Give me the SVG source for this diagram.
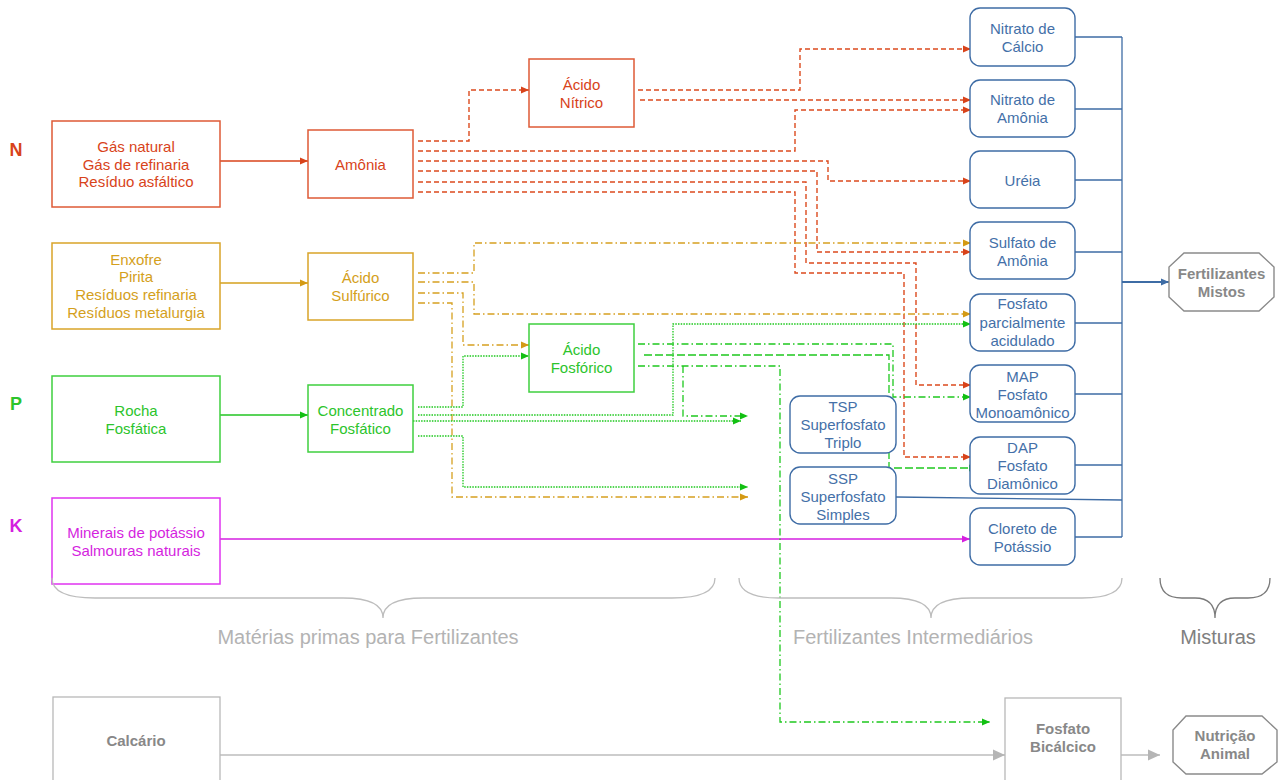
<svg xmlns="http://www.w3.org/2000/svg" width="1286" height="780" viewBox="0 0 1286 780">
<style>
text{font-family:"Liberation Sans",Arial,sans-serif;font-size:15px;text-anchor:middle}
.r{fill:#d8431a}.y{fill:#d4a01c}.g{fill:#2cc42c}.m{fill:#d51fe0}.b{fill:#4470a8}.gr{fill:#888;font-weight:bold}
.lbl{font-weight:bold;font-size:18px}
.boxr{fill:#fff;stroke:#de5a36;stroke-width:1.5}
.boxy{fill:#fff;stroke:#d9a428;stroke-width:1.5}
.boxg{fill:#fff;stroke:#3fcf3f;stroke-width:1.5}
.boxm{fill:#fff;stroke:#e033f0;stroke-width:1.5}
.boxb{fill:#fff;stroke:#3e6ca5;stroke-width:1.4}
.boxgr{fill:#fff;stroke:#b8b8b8;stroke-width:1.3}
.oct{fill:#fff;stroke:#8a8a8a;stroke-width:1.4}
.cr{fill:none;stroke:#dc4a1e;stroke-width:1.4;stroke-dasharray:5,3}
.cy{fill:none;stroke:#d6a020;stroke-width:1.3;stroke-dasharray:7,3,1.5,3}
.cgd{fill:none;stroke:#1ec81e;stroke-width:1.3;stroke-dasharray:1.5,1.2}
.cgdd{fill:none;stroke:#1ec81e;stroke-width:1.3;stroke-dasharray:7,3,1.5,3}
.cgl{fill:none;stroke:#1ec81e;stroke-width:1.3;stroke-dasharray:8,3}
.cb{fill:none;stroke:#3e6ca5;stroke-width:1.3}
.brace{fill:none;stroke:#bdbdbd;stroke-width:1.3}
</style>
<defs>
<marker id="ar" markerUnits="userSpaceOnUse" markerWidth="9" markerHeight="8" refX="8" refY="4" orient="auto"><path d="M0,0.5 L8,4 L0,7.5z" fill="#d8431a"/></marker>
<marker id="ay" markerUnits="userSpaceOnUse" markerWidth="9" markerHeight="8" refX="8" refY="4" orient="auto"><path d="M0,0.5 L8,4 L0,7.5z" fill="#d49a14"/></marker>
<marker id="ag" markerUnits="userSpaceOnUse" markerWidth="9" markerHeight="8" refX="8" refY="4" orient="auto"><path d="M0,0.5 L8,4 L0,7.5z" fill="#12c012"/></marker>
<marker id="am" markerUnits="userSpaceOnUse" markerWidth="9" markerHeight="8" refX="8" refY="4" orient="auto"><path d="M0,0.5 L8,4 L0,7.5z" fill="#d51fe0"/></marker>
<marker id="ab" markerUnits="userSpaceOnUse" markerWidth="9" markerHeight="8" refX="8" refY="4" orient="auto"><path d="M0,0.5 L8,4 L0,7.5z" fill="#3e6ca5"/></marker>
<marker id="agr" markerUnits="userSpaceOnUse" markerWidth="13" markerHeight="12" refX="12" refY="6" orient="auto"><path d="M0,0.5 L12,6 L0,11.5z" fill="#b5b5b5"/></marker>
</defs>

<g id="labels">
<text x="16" y="156" class="lbl r">N</text>
<text x="16" y="410" class="lbl g">P</text>
<text x="16" y="532" class="lbl m">K</text>
</g>

<g id="connectors">
<path d="M220,161 H308" fill="none" stroke="#d8431a" stroke-width="1.4" marker-end="url(#ar)"/>
<path d="M220,283 H308" fill="none" stroke="#d4a01c" stroke-width="1.4" marker-end="url(#ay)"/>
<path d="M220,415 H308" fill="none" stroke="#22c422" stroke-width="1.4" marker-end="url(#ag)"/>
<path d="M220,539 H970" fill="none" stroke="#d51fe0" stroke-width="1.4" marker-end="url(#am)"/>
<path d="M220,755 H1005" fill="none" stroke="#bcbcbc" stroke-width="1.5" marker-end="url(#agr)"/>
<path d="M1121,755 H1160" fill="none" stroke="#bcbcbc" stroke-width="1.5" marker-end="url(#agr)"/>

<path class="cr" d="M418,141 H469 V90 H529" marker-end="url(#ar)"/>
<path class="cr" d="M638,90 H800 V49 H971" marker-end="url(#ar)"/>
<path class="cr" d="M640,100 H971" marker-end="url(#ar)"/>
<path class="cr" d="M418,151 H795 V110 H971" marker-end="url(#ar)"/>
<path class="cr" d="M418,161 H828 V181 H971" marker-end="url(#ar)"/>
<path class="cr" d="M418,171 H817 V252 H971" marker-end="url(#ar)"/>
<path class="cr" d="M418,182 H806 V263 H916 V385 H971" marker-end="url(#ar)"/>
<path class="cr" d="M418,192 H795 V273 H904 V457 H971" marker-end="url(#ar)"/>

<path class="cy" d="M418,273 H474 V243 H971" marker-end="url(#ay)"/>
<path class="cy" d="M418,282 H474 V314 H971" marker-end="url(#ay)"/>
<path class="cy" d="M418,293 H463 V345 H529" marker-end="url(#ay)"/>
<path class="cy" d="M418,303 H452 V497 H748" marker-end="url(#ay)"/>

<path class="cgd" d="M418,407 H463 V356 H529" marker-end="url(#ag)"/>
<path class="cgd" d="M418,415 H673 V324 H971" marker-end="url(#ag)"/>
<path class="cgd" d="M413,421 H741" marker-end="url(#ag)"/>
<path class="cgd" d="M418,436 H463 V487 H748" marker-end="url(#ag)"/>

<path class="cgdd" d="M638,344 H893 V397 H971" marker-end="url(#ag)"/>
<path class="cgl" d="M644,355 H889 V468 H977" marker-end="url(#ag)"/>
<path class="cgdd" d="M638,366 H780 V722 H990" marker-end="url(#ag)"/>
<path class="cgdd" d="M683,366 V416 H748" marker-end="url(#ag)"/>

<path class="cb" d="M1122,37 V537"/>
<path class="cb" d="M1075,37 H1122 M1075,109 H1122 M1075,180 H1122 M1075,252 H1122 M1075,323 H1122 M1075,394 H1122 M1075,465 H1122 M1075,537 H1122 M896,497 L1122,500"/>
<path d="M1122,282 H1169" fill="none" stroke="#3e6ca5" stroke-width="2.2" marker-end="url(#ab)"/>
</g>

<g id="gas"><rect class="boxr" x="52" y="121" width="168" height="86"/>
<text x="136" y="152" class="r">Gás natural</text><text x="136" y="169.5" class="r">Gás de refinaria</text><text x="136" y="187" class="r">Resíduo asfáltico</text></g>
<g id="enxofre"><rect class="boxy" x="52" y="243" width="168" height="86"/>
<text x="136" y="265" class="y">Enxofre</text><text x="136" y="282" class="y">Pirita</text><text x="136" y="300" class="y">Resíduos refinaria</text><text x="136" y="318" class="y">Resíduos metalurgia</text></g>
<g id="rocha"><rect class="boxg" x="52" y="376" width="168" height="86"/>
<text x="136" y="416" class="g">Rocha</text><text x="136" y="434" class="g">Fosfática</text></g>
<g id="minerais"><rect class="boxm" x="52" y="498" width="168" height="86"/>
<text x="136" y="538" class="m">Minerais de potássio</text><text x="136" y="556" class="m">Salmouras naturais</text></g>

<g id="amonia"><rect class="boxr" x="308" y="130" width="105" height="68"/>
<text x="360.5" y="170" class="r">Amônia</text></g>
<g id="acido-nitrico"><rect class="boxr" x="529" y="59" width="105" height="68"/>
<text x="581.5" y="90" class="r">Ácido</text><text x="581.5" y="108" class="r">Nítrico</text></g>
<g id="acido-sulfurico"><rect class="boxy" x="308" y="253" width="105" height="67"/>
<text x="360.5" y="283" class="y">Ácido</text><text x="360.5" y="301" class="y">Sulfúrico</text></g>
<g id="acido-fosforico"><rect class="boxg" x="529" y="324" width="105" height="68"/>
<text x="581.5" y="355" class="g">Ácido</text><text x="581.5" y="373" class="g">Fosfórico</text></g>
<g id="concentrado"><rect class="boxg" x="308" y="385" width="105" height="67"/>
<text x="360.5" y="416" class="g">Concentrado</text><text x="360.5" y="434" class="g">Fosfático</text></g>

<g id="nitrato-calcio"><rect class="boxb" x="970" y="8" width="105" height="58" rx="10"/>
<text x="1022.5" y="34" class="b">Nitrato de</text><text x="1022.5" y="52" class="b">Cálcio</text></g>
<g id="nitrato-amonia"><rect class="boxb" x="970" y="80" width="105" height="57" rx="10"/>
<text x="1022.5" y="105" class="b">Nitrato de</text><text x="1022.5" y="123" class="b">Amônia</text></g>
<g id="ureia"><rect class="boxb" x="970" y="151" width="105" height="57" rx="10"/>
<text x="1022.5" y="186" class="b">Uréia</text></g>
<g id="sulfato-amonia"><rect class="boxb" x="970" y="222" width="105" height="57" rx="10"/>
<text x="1022.5" y="248" class="b">Sulfato de</text><text x="1022.5" y="266" class="b">Amônia</text></g>
<g id="fosfato-parc"><rect class="boxb" x="970" y="294" width="105" height="57" rx="10"/>
<text x="1022.5" y="309" class="b">Fosfato</text><text x="1022.5" y="328" class="b">parcialmente</text><text x="1022.5" y="346" class="b">acidulado</text></g>
<g id="map"><rect class="boxb" x="970" y="365" width="105" height="57" rx="10"/>
<text x="1022.5" y="382" class="b">MAP</text><text x="1022.5" y="400" class="b">Fosfato</text><text x="1022.5" y="418" class="b">Monoamônico</text></g>
<g id="dap"><rect class="boxb" x="970" y="437" width="105" height="57" rx="10"/>
<text x="1022.5" y="453" class="b">DAP</text><text x="1022.5" y="471" class="b">Fosfato</text><text x="1022.5" y="489" class="b">Diamônico</text></g>
<g id="cloreto"><rect class="boxb" x="970" y="508" width="105" height="57" rx="10"/>
<text x="1022.5" y="534" class="b">Cloreto de</text><text x="1022.5" y="552" class="b">Potássio</text></g>
<g id="tsp"><rect class="boxb" x="790" y="396" width="106" height="57" rx="10"/>
<text x="843" y="412" class="b">TSP</text><text x="843" y="430" class="b">Superfosfato</text><text x="843" y="448" class="b">Triplo</text></g>
<g id="ssp"><rect class="boxb" x="790" y="467" width="106" height="57" rx="10"/>
<text x="843" y="484" class="b">SSP</text><text x="843" y="502" class="b">Superfosfato</text><text x="843" y="520" class="b">Simples</text></g>

<g id="fert-mistos"><polygon class="oct" points="1184,253 1259,253 1274,267 1274,297 1259,311 1184,311 1169,297 1169,267"/>
<text x="1221.5" y="279" class="gr">Fertilizantes</text><text x="1221.5" y="297" class="gr">Mistos</text></g>

<g id="calcario"><rect class="boxgr" x="53" y="697" width="167" height="100"/>
<text x="136" y="746" class="gr">Calcário</text></g>
<g id="fosfato-bicalcico"><rect class="boxgr" x="1005" y="698" width="116" height="100"/>
<text x="1063" y="734" class="gr">Fosfato</text><text x="1063" y="752" class="gr">Bicálcico</text></g>
<g id="nutricao"><polygon class="oct" points="1186,716 1262,716 1277,730 1277,762 1262,774 1186,774 1173,762 1173,730"/>
<text x="1225" y="741" class="gr">Nutrição</text><text x="1225" y="759" class="gr">Animal</text></g>

<g id="braces">
<path class="brace" d="M52,578 Q52,598 95,598 H343 Q383,598 383,618 Q383,598 423,598 H672 Q715,598 715,578"/>
<text x="368" y="644" style="font-size:20px;fill:#b3b3b3">Matérias primas para Fertilizantes</text>
<path class="brace" d="M739,578 Q739,598 779,598 H891 Q931,598 931,618 Q931,598 971,598 H1082 Q1122,598 1122,578"/>
<text x="913" y="644" style="font-size:20px;fill:#b3b3b3">Fertilizantes Intermediários</text>
<path d="M1160,578 Q1160,598 1182,598 H1195 Q1215,598 1215,618 Q1215,598 1235,598 H1248 Q1270,598 1270,578" fill="none" stroke="#7a7a7a" stroke-width="1.3"/>
<text x="1218" y="644" style="font-size:20px;fill:#808080">Misturas</text>
</g>
</svg>
